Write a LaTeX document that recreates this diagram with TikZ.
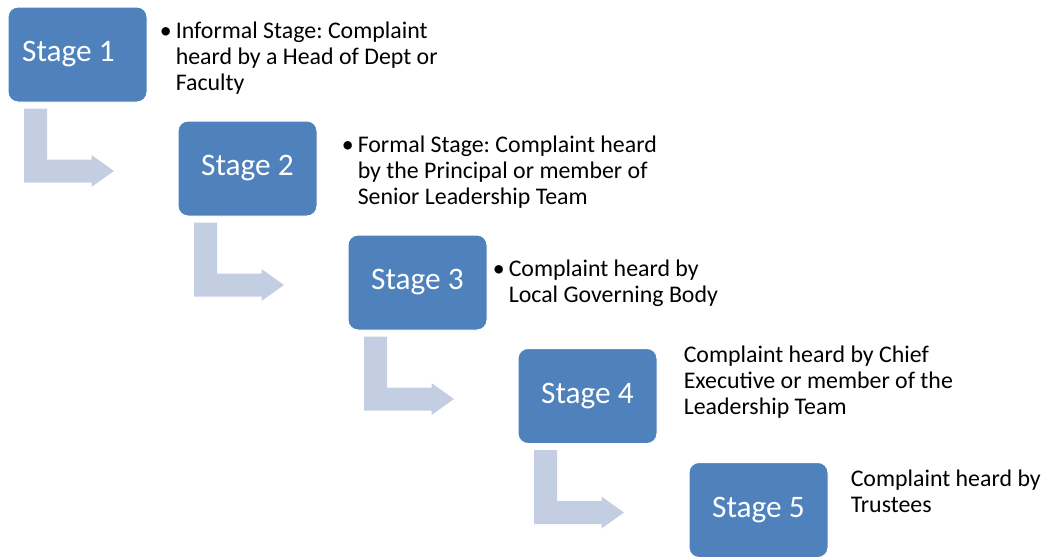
\documentclass[tikz,border=0pt]{standalone}
\usepackage{fontspec}
\setmainfont{Carlito}
\usepackage{tikz}
\usetikzlibrary{calc, positioning}
\definecolor{stageblue}{RGB}{79,129,189}
\definecolor{bendblue}{RGB}{196,206,226}
\frenchspacing

\begin{document}
\begin{tikzpicture}[x=0.75pt, y=-0.75pt,
  stagebox/.style={rectangle, rounded corners=7.5pt, fill=stageblue, draw=white, line width=0.75pt,
    minimum width=104.25pt, minimum height=71.25pt, text=white, font=\fontsize{23.5}{27}\selectfont},
  note/.style={anchor=north west, inner sep=0pt, align=left, font=\fontsize{17.9}{19.5}\selectfont},
  bendarrow/.style={fill=bendblue}]
\useasboundingbox (0,0) rectangle (1046,557);
\node[stagebox] (S1) at (77.5,54.5) {Stage 1\hspace*{13.5pt}};
\node[stagebox] (S2) at (247.5,168.5) {Stage 2};
\node[stagebox] (S3) at (417.5,282.5) {Stage 3};
\node[stagebox] (S4) at (587.5,396) {Stage 4};
\node[stagebox] (S5) at (758.5,510) {Stage 5};
% bent arrows below each stage
\foreach \a in {S1,S2,S3,S4}
  \fill[bendarrow] ($(\a.south west)+(16.5,6)$) -- ($(\a.south west)+(39.5,6)$)
    -- ($(\a.south west)+(39.5,57)$) -- ($(\a.south west)+(84,57)$)
    -- ($(\a.south west)+(84,52.5)$) -- ($(\a.south west)+(106.5,68.5)$)
    -- ($(\a.south west)+(84,84.5)$) -- ($(\a.south west)+(84,80)$)
    -- ($(\a.south west)+(16.5,80)$) -- cycle;
\node[note] (N1) at ($(S1.north east)+(28,13.5)$) {\llap{•\kern3pt}\strut Informal Stage: Complaint\\heard by a Head of Dept or\\Faculty};
\node[note] (N2) at ($(S2.north east)+(40,13.5)$) {\llap{•\kern3pt}\strut Formal Stage: Complaint heard\\by the Principal or member of\\Senior Leadership Team};
\node[note] (N3) at ($(S3.north east)+(21,23.5)$) {\llap{•\kern3pt}\strut Complaint heard by\\Local Governing Body};
\node[note] (N4) at ($(S4.north east)+(26,-3.5)$) {\strut Complaint heard by Chief\\Executive or member of the\\Leadership Team};
\node[note] (N5) at ($(S5.north east)+(22,6.5)$) {\strut Complaint heard by\\Trustees};
\end{tikzpicture}
\end{document}
